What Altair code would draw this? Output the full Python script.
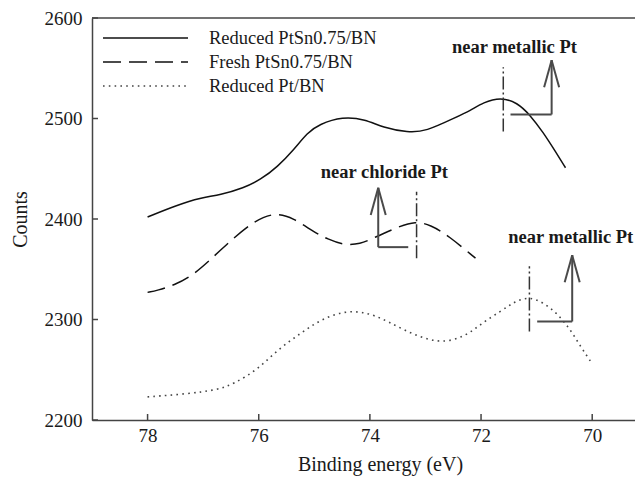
import altair as alt
import pandas as pd

# Pt 4f XPS spectra: binding energy (eV) against counts
energy_reduced_ptsn = [78.0, 77.46, 77.05, 76.69, 76.27, 75.97, 75.66, 75.37, 75.12, 74.92,
                       74.49, 74.08, 73.77, 73.31, 73.0, 72.46, 72.19, 71.96, 71.65, 71.35,
                       71.11, 70.88, 70.66, 70.48]
counts_reduced_ptsn = [2402, 2414, 2421, 2424, 2431, 2439, 2452, 2469, 2486, 2494,
                       2502, 2499, 2491, 2486, 2487, 2501, 2508, 2516, 2521, 2516,
                       2503, 2486, 2467, 2451]

energy_fresh_ptsn = [78.0, 77.82, 77.53, 77.17, 76.69, 76.15, 75.73, 75.37, 75.01, 74.76,
                     74.47, 74.17, 73.94, 73.50, 73.18, 72.91, 72.60, 72.10]
counts_fresh_ptsn = [2327, 2329, 2334, 2344, 2369, 2396, 2407, 2401, 2387, 2380,
                     2374, 2375, 2381, 2392, 2398, 2394, 2384, 2361]

energy_reduced_pt = [78.0, 77.28, 76.74, 76.45, 76.02, 75.66, 75.25, 74.89, 74.39, 73.90,
                     73.42, 72.77, 72.28, 71.97, 71.65, 71.42, 71.15, 70.88, 70.63, 70.39,
                     70.21, 70.0]
counts_reduced_pt = [2223, 2226, 2230, 2236, 2250, 2270, 2286, 2300, 2310, 2305,
                     2290, 2275, 2283, 2297, 2308, 2317, 2323, 2317, 2306, 2290,
                     2273, 2256]

series_names = ["Reduced PtSn0.75/BN", "Fresh PtSn0.75/BN", "Reduced Pt/BN"]

x_tick_values = [78, 76, 74, 72, 70]
y_tick_values = [2200, 2300, 2400, 2500, 2600]

# Peak assignments: dash-dot marker at the peak, bracket and upward arrow, label
ann_labels = ["near metallic Pt", "near chloride Pt", "near metallic Pt"]
ann_label_x = [71.40, 73.74, 71.51]
ann_label_y = [2571, 2447, 2382]
peak_x = [71.60, 73.16, 71.13]
peak_lo = [2487, 2361, 2288]
peak_hi = [2551, 2427, 2353]
arrow_x = [70.73, 73.85, 70.36]
arrow_base = [2504, 2372, 2298]
arrow_tip = [2558, 2431, 2364]
bracket_end = [71.47, 73.31, 70.99]

W, H = 543, 402
SERIF = "Liberation Serif"
AXIS_COLOR = "#444"
TEXT_COLOR = "#1a1a1a"

x_scale = alt.Scale(domain=[69.23, 79], reverse=True, nice=False, zero=False)
y_scale = alt.Scale(domain=[2200, 2600], nice=False, zero=False)

x_axis = alt.Axis(
    values=x_tick_values, format="d", grid=False, ticks=False, tickSize=0,
    labelPadding=6, labelBaseline="top", labelFont=SERIF, labelFontSize=19,
    labelColor=TEXT_COLOR, labelFlush=False, domainColor=AXIS_COLOR, domainWidth=1.5,
    title="Binding energy (eV)", titleFont=SERIF, titleFontSize=20,
    titleFontWeight="normal", titleColor=TEXT_COLOR, titleX=288, titleY=50,
    titleAlign="center", titleBaseline="alphabetic",
)
y_axis = alt.Axis(
    values=y_tick_values, format="d", grid=False, ticks=False, tickSize=0,
    labelPadding=10, labelFont=SERIF, labelFontSize=19, labelColor=TEXT_COLOR,
    labelFlush=False, domainColor=AXIS_COLOR, domainWidth=1.5,
    title="Counts", titleFont=SERIF, titleFontSize=20, titleFontWeight="normal",
    titleColor=TEXT_COLOR, titleX=-66, titleY=201, titleAngle=270,
    titleAlign="center", titleBaseline="alphabetic",
)


def X(field="energy"):
    return alt.X(f"{field}:Q", scale=x_scale, axis=x_axis)


def Y(field="counts"):
    return alt.Y(f"{field}:Q", scale=y_scale, axis=y_axis)


styles = [
    dict(color="#111111", strokeWidth=1.5),
    dict(color="#111111", strokeWidth=1.5, strokeDash=[18, 8]),
    dict(color="#444444", strokeWidth=1.6, strokeDash=[1.6, 4.2]),
]
spectra = [
    (energy_reduced_ptsn, counts_reduced_ptsn),
    (energy_fresh_ptsn, counts_fresh_ptsn),
    (energy_reduced_pt, counts_reduced_pt),
]

layers = []

# frame: top line and inward ticks
layers.append(
    alt.Chart(pd.DataFrame({"counts": [y_tick_values[-1]]}))
    .mark_rule(color=AXIS_COLOR, strokeWidth=1.5)
    .encode(y=Y())
)
layers.append(
    alt.Chart(pd.DataFrame({"energy": x_tick_values}))
    .mark_rule(color=AXIS_COLOR, strokeWidth=1.5)
    .encode(x=X(), y=alt.value(H), y2=alt.value(H - 6))
)
layers.append(
    alt.Chart(pd.DataFrame({"counts": y_tick_values}))
    .mark_rule(color=AXIS_COLOR, strokeWidth=1.5)
    .encode(y=Y(), x=alt.value(0), x2=alt.value(6))
)

# spectra
for name, (e, c), st in zip(series_names, spectra, styles):
    df = pd.DataFrame({"energy": e, "counts": c, "series": name})
    layers.append(
        alt.Chart(df).mark_line(interpolate="basis", **st).encode(x=X(), y=Y())
    )

# dash-dot peak markers
markers = pd.DataFrame({"energy": peak_x, "counts": peak_lo, "counts_hi": peak_hi})
layers.append(
    alt.Chart(markers)
    .mark_rule(color="#333333", strokeWidth=1.5, strokeDash=[13, 3, 2, 3])
    .encode(x=X(), y=Y(), y2="counts_hi:Q")
)

# brackets and arrows
head_dx, head_dy = 0.135, 27
segs = []
for ax, base, tip, end in zip(arrow_x, arrow_base, arrow_tip, bracket_end):
    segs.append((ax, base, ax, tip))
    segs.append((ax, base, end, base))
    segs.append((ax, tip, ax - head_dx, tip - head_dy))
    segs.append((ax, tip, ax + head_dx, tip - head_dy))
segs_df = pd.DataFrame(segs, columns=["energy", "counts", "energy_end", "counts_end"])
layers.append(
    alt.Chart(segs_df)
    .mark_rule(color="#4a4a4a", strokeWidth=2)
    .encode(x=X(), y=Y(), x2="energy_end:Q", y2="counts_end:Q")
)

labels_df = pd.DataFrame({"energy": ann_label_x, "counts": ann_label_y, "label": ann_labels})
layers.append(
    alt.Chart(labels_df.iloc[:2])
    .mark_text(font=SERIF, fontSize=18.5, fontWeight="bold", color=TEXT_COLOR,
               align="center", baseline="middle")
    .encode(x=X(), y=Y(), text="label:N")
)
layers.append(
    alt.Chart(labels_df.iloc[2:])
    .mark_text(font=SERIF, fontSize=18.5, fontWeight="bold", color=TEXT_COLOR,
               align="left", baseline="middle")
    .encode(x=X(), y=Y(), text="label:N")
)

# legend in the upper left corner of the plot
for i, (name, st) in enumerate(zip(series_names, styles)):
    ly = 20 + 24 * i
    layers.append(
        alt.Chart(pd.DataFrame({"label": [name]}))
        .mark_rule(**st)
        .encode(x=alt.value(11), x2=alt.value(96), y=alt.value(ly))
    )
    layers.append(
        alt.Chart(pd.DataFrame({"label": [name]}))
        .mark_text(font=SERIF, fontSize=18.5, color=TEXT_COLOR, align="left",
                   baseline="middle")
        .encode(x=alt.value(117), y=alt.value(ly), text="label:N")
    )

chart = (
    alt.layer(*layers)
    .properties(
        width=W, height=H,
        autosize=alt.AutoSizeParams(type="none"),
        padding={"left": 92, "top": 18, "right": 0, "bottom": 57},
        background="white",
    )
    .configure_view(stroke="transparent")
)

chart.save("out.html", embed_options={"renderer": "svg", "actions": False})
